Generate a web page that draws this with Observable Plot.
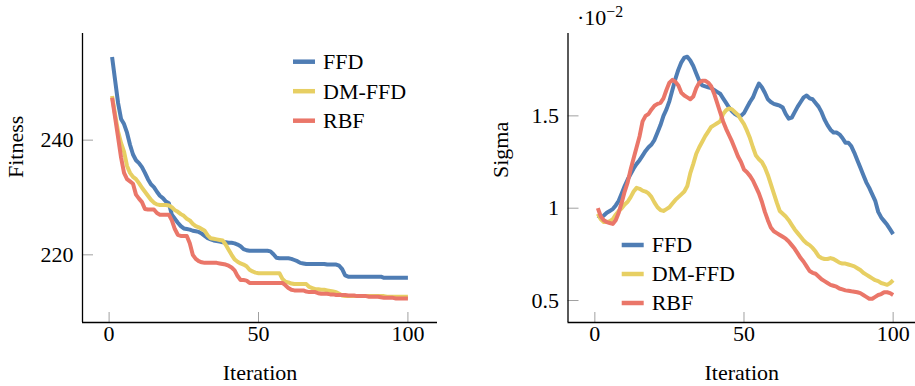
<!DOCTYPE html>
<html><head><meta charset="utf-8">
<script src="https://cdn.jsdelivr.net/npm/d3@7"></script>
<script src="https://cdn.jsdelivr.net/npm/@observablehq/plot@0.6"></script>
<style>
html,body{margin:0;padding:0;background:#fff;overflow:hidden;}
#wrap{position:relative;width:915px;height:386px;overflow:hidden;}
.panel{position:absolute;top:0;}
#legend{position:absolute;left:0;top:0;pointer-events:none;}
</style></head><body><div id="wrap"></div>
<script>
const seriesNames = ["FFD", "DM-FFD", "RBF"];
const seriesColors = ["#4f7db4", "#e7cf63", "#ea7669"];
const xTicks = [0, 50, 100];
const fitnessTicks = [220, 240];
const sigmaTicks = [0.5, 1, 1.5];
const xLabel = "Iteration";
const fitnessLabel = "Fitness";
const sigmaLabel = "Sigma";
const sigmaScaleBase = "·10";
const sigmaScaleExp = "−2";

const fitnessFFD = [254.5,250.5,246.5,243.7,242.8,241.3,239.2,237.5,236.5,236.0,
235.3,234.3,233.2,232.3,231.8,231.0,230.3,229.9,229.3,229.0,
227.0,226.3,225.6,225.0,224.6,224.5,224.4,224.2,224.1,224.0,
223.7,223.3,222.9,222.7,222.5,222.4,222.3,222.2,222.2,222.1,
222.1,222.0,221.8,221.5,221.0,220.8,220.7,220.7,220.7,220.7,
220.7,220.7,220.7,220.6,220.1,219.5,219.4,219.4,219.4,219.4,
219.3,219.1,218.9,218.6,218.5,218.4,218.4,218.4,218.4,218.4,
218.4,218.4,218.3,218.3,218.3,218.3,218.1,217.5,216.4,216.2,
216.2,216.2,216.2,216.2,216.2,216.2,216.2,216.2,216.2,216.2,
216.2,216.0,216.0,216.0,216.0,216.0,216.0,216.0,216.0,216.0];

const fitnessDMFFD = [247.7,244.5,241.5,239.5,238.0,235.5,234.3,233.6,233.2,232.5,
231.7,231.0,230.3,229.6,229.1,228.8,228.7,228.7,228.7,228.6,
228.3,227.8,227.5,227.1,226.8,226.3,226.0,225.4,225.0,224.8,
224.5,224.2,223.4,222.9,222.8,222.7,222.6,222.5,221.8,220.9,
220.0,219.2,218.8,218.5,218.3,218.0,217.4,217.1,216.9,216.8,
216.8,216.8,216.8,216.8,216.8,216.8,216.8,215.8,215.3,215.2,
215.0,214.9,214.9,214.9,214.9,214.9,214.4,214.2,214.0,214.0,
213.9,213.9,213.8,213.7,213.6,213.5,213.2,212.9,212.8,212.8,
212.8,212.8,212.8,212.8,212.8,212.8,212.8,212.8,212.8,212.8,
212.8,212.8,212.7,212.7,212.7,212.7,212.7,212.7,212.7,212.7];

const fitnessRBF = [247.4,244.0,240.5,237.0,234.3,233.2,232.8,232.4,230.5,229.8,
229.2,228.0,227.9,227.9,227.9,227.3,227.0,227.0,227.0,227.0,
226.0,224.5,223.5,223.3,223.3,223.3,222.0,220.0,219.3,218.9,
218.7,218.6,218.6,218.6,218.6,218.6,218.5,218.4,218.3,218.1,
217.8,217.3,216.3,215.6,215.6,215.5,215.1,215.1,215.1,215.1,
215.1,215.1,215.1,215.1,215.1,215.1,215.1,215.1,214.7,214.2,
213.9,213.8,213.8,213.8,213.8,213.6,213.5,213.5,213.5,213.3,
213.2,213.2,213.2,213.1,213.1,213.0,213.0,213.0,213.0,212.9,
212.9,212.9,212.8,212.8,212.8,212.8,212.7,212.7,212.7,212.7,
212.6,212.5,212.5,212.5,212.5,212.4,212.4,212.4,212.4,212.4];

// sigma values in units of 10^-2
const sigmaFFD = [0.96,0.95,0.96,0.975,0.985,0.995,1.015,1.04,1.08,1.12,
1.155,1.185,1.215,1.24,1.26,1.285,1.31,1.33,1.345,1.37,
1.41,1.45,1.50,1.535,1.58,1.64,1.70,1.75,1.79,1.815,
1.82,1.80,1.77,1.73,1.69,1.665,1.66,1.655,1.65,1.64,
1.63,1.62,1.595,1.57,1.545,1.525,1.51,1.50,1.50,1.515,
1.545,1.575,1.60,1.64,1.675,1.655,1.625,1.59,1.575,1.565,
1.56,1.555,1.545,1.51,1.485,1.49,1.52,1.55,1.575,1.60,
1.61,1.595,1.59,1.57,1.55,1.52,1.48,1.45,1.425,1.41,
1.41,1.40,1.38,1.355,1.355,1.335,1.30,1.26,1.22,1.18,
1.14,1.11,1.075,1.04,0.98,0.95,0.93,0.91,0.885,0.86];

const sigmaDMFFD = [0.97,0.94,0.925,0.925,0.93,0.94,0.965,0.985,1.0,1.02,
1.035,1.06,1.09,1.11,1.105,1.095,1.09,1.08,1.06,1.03,
1.005,0.99,0.985,0.995,1.005,1.025,1.045,1.06,1.075,1.09,
1.12,1.19,1.24,1.295,1.33,1.36,1.39,1.415,1.44,1.45,
1.46,1.47,1.51,1.53,1.54,1.535,1.52,1.505,1.48,1.455,
1.42,1.38,1.33,1.285,1.265,1.25,1.22,1.18,1.13,1.08,
1.03,0.985,0.97,0.955,0.935,0.91,0.885,0.865,0.845,0.825,
0.81,0.80,0.785,0.765,0.74,0.73,0.725,0.725,0.73,0.725,
0.715,0.705,0.70,0.70,0.695,0.69,0.685,0.675,0.665,0.65,
0.64,0.63,0.62,0.61,0.605,0.595,0.59,0.585,0.595,0.61];

const sigmaRBF = [1.0,0.955,0.935,0.925,0.92,0.915,0.935,0.975,1.03,1.09,
1.14,1.21,1.27,1.33,1.39,1.47,1.50,1.51,1.535,1.555,
1.565,1.57,1.595,1.64,1.68,1.695,1.685,1.665,1.625,1.61,
1.60,1.59,1.605,1.65,1.68,1.69,1.69,1.68,1.66,1.62,
1.57,1.52,1.47,1.43,1.395,1.36,1.32,1.28,1.25,1.21,
1.195,1.175,1.15,1.115,1.08,1.035,0.98,0.935,0.895,0.875,
0.865,0.855,0.845,0.835,0.82,0.80,0.78,0.755,0.73,0.71,
0.685,0.66,0.65,0.645,0.63,0.615,0.605,0.595,0.585,0.58,
0.575,0.565,0.56,0.555,0.553,0.55,0.548,0.545,0.54,0.53,
0.52,0.51,0.51,0.52,0.53,0.535,0.545,0.545,0.54,0.53];

const FONT = "'Liberation Serif', serif";
const FS = 22;
const H = 386, MT = 33, MB = 64;

function toRows(arrays) {
  return arrays.flatMap((vals, s) => vals.map((v, i) => ({iteration: i + 1, value: v, name: seriesNames[s]})));
}

function panel({rows, width, marginLeft, marginRight, xDomain, yDomain, yTicks, yLabel, labelX, extra = []}) {
  const frameW = width - marginLeft - marginRight;
  const frameH = H - MT - MB;
  return Plot.plot({
    width, height: H, marginLeft, marginRight, marginTop: MT, marginBottom: MB,
    style: {fontFamily: FONT, fontSize: FS + "px", background: "transparent", overflow: "visible", color: "#000"},
    x: {domain: xDomain},
    y: {domain: yDomain},
    color: {domain: seriesNames, range: seriesColors},
    marks: [
      Plot.tickX(xTicks, {x: d => d, stroke: "#a0a0a0", strokeWidth: 1, insetTop: frameH - 10}),
      Plot.tickY(yTicks, {y: d => d, stroke: "#a0a0a0", strokeWidth: 1, insetRight: frameW - 11}),
      Plot.ruleY([yDomain[0]], {stroke: "#000", strokeWidth: 1.3}),
      Plot.ruleX([xDomain[0]], {stroke: "#000", strokeWidth: 1.3}),
      Plot.axisX({ticks: xTicks, tickSize: 0, tickPadding: 3, label: null, fontSize: FS, tickFormat: d => String(d)}),
      Plot.axisY({ticks: yTicks, tickSize: 0, tickPadding: 9, label: null, fontSize: FS, tickFormat: d => String(d)}),
      Plot.line(rows, {x: "iteration", y: "value", z: "name", stroke: "name", strokeWidth: 4, strokeLinejoin: "round", strokeLinecap: "butt"}),
      Plot.text([xLabel], {text: d => d, frameAnchor: "bottom", dy: 50, lineAnchor: "middle", fontSize: FS}),
      Plot.text([yLabel], {text: d => d, frameAnchor: "left", dx: -(marginLeft - labelX), rotate: -90, lineAnchor: "middle", fontSize: FS}),
      ...extra
    ]
  });
}

const wrap = document.getElementById("wrap");

const left = panel({
  rows: toRows([fitnessFFD, fitnessDMFFD, fitnessRBF]),
  width: 450, marginLeft: 82, marginRight: 13,
  xDomain: [-8.9, 109.9], yDomain: [208.2, 258.6],
  yTicks: fitnessTicks, yLabel: fitnessLabel, labelX: 15
});
left.classList.add("panel");
left.style.left = "0px";
wrap.appendChild(left);

const right = panel({
  rows: toRows([sigmaFFD, sigmaDMFFD, sigmaRBF]),
  width: 435, marginLeft: 87.5, marginRight: 0,
  xDomain: [-9, 107.5], yDomain: [0.381, 1.946],
  yTicks: sigmaTicks, yLabel: sigmaLabel, labelX: 20,
  extra: [Plot.text([sigmaScaleBase + sigmaScaleExp], {text: d => d, frameAnchor: "top-left", dx: 9, dy: -16, textAnchor: "start", lineAnchor: "middle", fontSize: FS})]
});
right.classList.add("panel");
right.style.left = "480px";
wrap.appendChild(right);

// turn the scale note into base + superscript exponent
d3.select(right).selectAll("text").filter(function() { return this.textContent === sigmaScaleBase + sigmaScaleExp; })
  .each(function() {
    const t = d3.select(this);
    t.text(sigmaScaleBase);
    t.append("tspan").attr("dy", "-0.5em").attr("font-size", "0.72em").text(sigmaScaleExp);
  });

// Legends (inside each panel)
const legendSvg = d3.create("svg").attr("id", "legend").attr("width", 915).attr("height", 386)
  .style("font-family", FONT).style("font-size", FS + "px");
function legend(x0, y0, step) {
  seriesNames.forEach((name, i) => {
    const y = y0 + i * step;
    legendSvg.append("line").attr("x1", x0).attr("x2", x0 + 22).attr("y1", y).attr("y2", y)
      .attr("stroke", seriesColors[i]).attr("stroke-width", 4.5);
    legendSvg.append("text").attr("x", x0 + 30).attr("y", y).attr("dy", "0.34em").text(name);
  });
}
legend(293, 61.7, 29.5);
legend(621.7, 245, 29);
wrap.appendChild(legendSvg.node());
</script></body></html>
